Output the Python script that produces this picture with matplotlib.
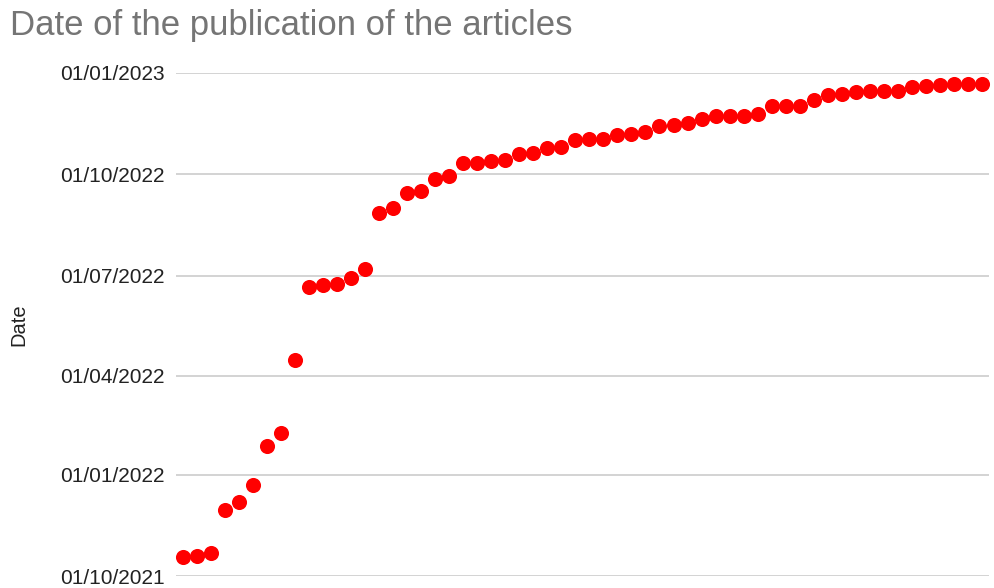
import matplotlib
matplotlib.use("Agg")
import matplotlib.pyplot as plt
import matplotlib.dates as mdates
import pandas as pd

# Publication dates of the articles, in sorted order
pub_dates = [
    "2021-10-18", "2021-10-19", "2021-10-22", "2021-11-30", "2021-12-07",
    "2021-12-23", "2022-01-27", "2022-02-08", "2022-04-15", "2022-06-21",
    "2022-06-22", "2022-06-23", "2022-06-29", "2022-07-07", "2022-08-27",
    "2022-08-31", "2022-09-14", "2022-09-16", "2022-09-27", "2022-09-29",
    "2022-10-11", "2022-10-11", "2022-10-13", "2022-10-14", "2022-10-19",
    "2022-10-20", "2022-10-25", "2022-10-26", "2022-11-01", "2022-11-02",
    "2022-11-02", "2022-11-06", "2022-11-07", "2022-11-08", "2022-11-14",
    "2022-11-15", "2022-11-17", "2022-11-20", "2022-11-23", "2022-11-23",
    "2022-11-23", "2022-11-25", "2022-12-02", "2022-12-02", "2022-12-02",
    "2022-12-07", "2022-12-12", "2022-12-13", "2022-12-15", "2022-12-16",
    "2022-12-16", "2022-12-16", "2022-12-19", "2022-12-20", "2022-12-21",
    "2022-12-22", "2022-12-22", "2022-12-22",
]
article_idx = list(range(1, len(pub_dates) + 1))
tick_dates = ["2021-10-01", "2022-01-01", "2022-04-01", "2022-07-01",
              "2022-10-01", "2023-01-01"]

dates = pd.to_datetime(pub_dates)
ticks = pd.to_datetime(tick_dates)

plt.rcParams["font.family"] = ["Liberation Sans", "DejaVu Sans"]

fig = plt.figure(figsize=(9.95, 5.88), dpi=100)
ax = fig.add_axes([0.177, 0.0204, 0.817, 0.8555])

ax.scatter(article_idx, dates, s=118, color="#ff0000", zorder=3,
           clip_on=False, linewidths=0)

ax.set_xlim(0.5, len(pub_dates) + 0.52)
ax.set_ylim(ticks[0], ticks[-1])
ax.set_yticks(ticks)
ax.yaxis.set_major_formatter(mdates.DateFormatter("%d/%m/%Y"))
ax.set_xticks([])
ax.tick_params(axis="y", length=0, pad=8, labelsize=15, labelcolor="#222222")
ax.grid(axis="y", color="#cccccc", linewidth=1.2, zorder=0)
for s in ax.spines.values():
    s.set_visible(False)

ax.set_ylabel("Date", fontsize=14.5, color="#222222")
ax.yaxis.set_label_coords(-0.182, 0.5)

fig.text(0.01, 1 - 34.5 / 588, "Date of the publication of the articles",
         fontsize=25, color="#757575", ha="left", va="baseline")

fig.savefig("out.png", dpi=100)
